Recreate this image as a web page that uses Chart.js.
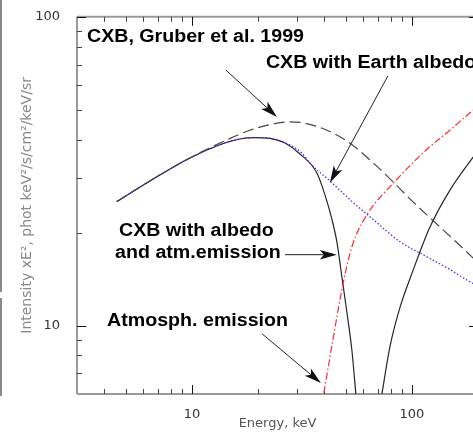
<!DOCTYPE html>
<html><head><meta charset="utf-8">
<script src="https://cdn.jsdelivr.net/npm/chart.js@4/dist/chart.umd.min.js"></script>
<style>
html,body{margin:0;padding:0;background:#fff;overflow:hidden;width:473px;height:432px}
#wrap{position:relative;width:473px;height:432px;overflow:hidden;background:#fff}
#c{position:absolute;left:0;top:0}
.strip{position:absolute;left:0;width:2px;background:#8a8a8a}
</style></head><body>
<div id="wrap">
<canvas id="c" width="490" height="432"></canvas>
<div class="strip" style="top:0;height:292px"></div>
<div class="strip" style="top:298px;height:98px"></div>
</div>
<script>
// ---- axis ranges & ticks ----
const energyRange = [3, 200];
const intensityRange = [6, 100];
const energyTicks = [10, 100];
const intensityTicks = [10, 100];
const energyMinorTicks = [4, 5, 6, 7, 8, 9, 20, 30, 40, 50, 60, 70, 80, 90, 200];
const intensityMinorTicks = [7, 8, 9, 20, 30, 40, 50, 60, 70, 80, 90];

// ---- series (Energy keV, Intensity x E^2) ----
const gruberE = [4.55, 6.44, 9.79, 13.4, 18.35, 23.8, 27.9, 33.3, 42.4, 52.2, 64.4, 79.4, 101, 124.6, 153.5, 189.2, 200];
const gruberI = [25.2, 29.4, 34.9, 39.0, 42.9, 45.1, 45.7, 45.1, 42.5, 39.0, 34.4, 29.9, 25.2, 21.9, 19.1, 16.6, 16.0];

const albedoE = [4.55, 6.44, 9.79, 13.4, 16.5, 19.3, 22.6, 26.5, 31.6, 34.4, 42.4, 52.2, 66.5, 88.2, 117, 148.9, 189.2, 200];
const albedoI = [25.2, 29.4, 34.9, 38.5, 40.2, 40.6, 40.4, 39.1, 36.2, 33.6, 29.4, 25.6, 22.1, 18.7, 16.7, 15.2, 13.7, 13.5];

const atmE = [37.9, 39.8, 43.7, 48.6, 53.4, 62.4, 82.0, 114.6, 148.9, 189.2, 200];
const atmI = [4.96, 6.05, 8.93, 13.6, 18.0, 22.8, 28.8, 36.7, 42.9, 49.7, 51.2];

const totalLowE = [4.55, 6.44, 9.79, 13.4, 16.5, 19.3, 22.6, 26.5, 30.6, 37.0, 40.2, 43.3, 45.6, 47.5, 50.6, 53.4, 55.6, 57.0];
const totalLowI = [25.2, 29.4, 34.9, 38.5, 40.2, 40.6, 40.4, 39.0, 36.2, 31.2, 26.6, 22.1, 18.7, 15.3, 11.1, 8.30, 6.05, 5.0];

const totalHighE = [69.8, 73.1, 79.4, 88.2, 101, 120.8, 148.9, 189, 200];
const totalHighI = [4.96, 6.0, 8.49, 11.4, 15.0, 20.8, 27.4, 34.9, 36.8];

// ---- annotations (in data coordinates) ----
const labelTexts = ['CXB, Gruber et al. 1999', 'CXB with Earth albedo', 'CXB with albedo', 'and atm.emission', 'Atmosph. emission'];
const labelAnchors = [[3.33, 82.9], [21.7, 68.2], [4.66, 19.5], [4.47, 16.5], [4.11, 9.98]];
const arrowLines = [
  [[14.27, 67.2], [24.35, 47.4]],
  [[77.8, 64.3], [42.4, 29.0]],
  [[26.5, 16.96], [45.6, 16.96]],
  [[20.8, 9.41], [38.6, 6.51]]
];

const pts = (xs, ys) => xs.map((x, i) => ({x: x, y: ys[i]}));

const framePlugin = {
  id: 'frame',
  beforeDatasetsDraw(chart) {
    const {ctx, chartArea: a, scales: {x, y}} = chart;
    ctx.save();
    ctx.strokeStyle = '#9a9a9a';
    ctx.lineWidth = 2;
    ctx.beginPath();
    ctx.moveTo(a.left, a.top); ctx.lineTo(a.right, a.top);
    ctx.moveTo(a.left, a.bottom); ctx.lineTo(a.right, a.bottom);
    ctx.moveTo(a.left, a.top); ctx.lineTo(a.left, a.bottom);
    ctx.moveTo(a.right, a.top); ctx.lineTo(a.right, a.bottom);
    ctx.stroke();
    ctx.lineWidth = 1;
    const tick = (x1, y1, x2, y2, col) => {
      ctx.strokeStyle = col; ctx.beginPath(); ctx.moveTo(x1, y1); ctx.lineTo(x2, y2); ctx.stroke();
    };
    energyMinorTicks.forEach(v => {
      const px = Math.round(x.getPixelForValue(v)) + 0.5;
      tick(px, a.bottom, px, a.bottom - 5, '#444');
      tick(px, a.top, px, a.top + 5, '#444');
    });
    energyTicks.forEach(v => {
      const px = Math.round(x.getPixelForValue(v)) + 0.5;
      tick(px, a.bottom, px, a.bottom - 9, '#111');
      tick(px, a.top, px, a.top + 9, '#111');
    });
    intensityMinorTicks.forEach(v => {
      const py = Math.round(y.getPixelForValue(v)) + 0.5;
      tick(a.left, py, a.left + 5, py, '#444');
      tick(a.right, py, a.right - 5, py, '#444');
    });
    intensityTicks.forEach(v => {
      const py = Math.round(y.getPixelForValue(v)) + 0.5;
      tick(a.left, py, a.left + 9, py, '#111');
      tick(a.right, py, a.right - 9, py, '#111');
    });
    ctx.restore();
  }
};

const annotPlugin = {
  id: 'annot',
  afterDatasetsDraw(chart) {
    const {ctx, scales: {x, y}} = chart;
    ctx.save();
    ctx.fillStyle = '#000';
    ctx.font = 'bold 18px "Liberation Sans", Arial, sans-serif';
    ctx.textBaseline = 'alphabetic';
    ctx.textAlign = 'left';
    labelTexts.forEach((t, i) => {
      const px = x.getPixelForValue(labelAnchors[i][0]);
      const py = y.getPixelForValue(labelAnchors[i][1]);
      ctx.save();
      ctx.translate(px, py);
      ctx.scale(1.09, 1);
      ctx.fillText(t, 0, 0);
      ctx.restore();
    });
    ctx.strokeStyle = '#222';
    ctx.fillStyle = '#111';
    ctx.lineWidth = 1;
    arrowLines.forEach(([s, e]) => {
      const x1 = x.getPixelForValue(s[0]), y1 = y.getPixelForValue(s[1]);
      const x2 = x.getPixelForValue(e[0]), y2 = y.getPixelForValue(e[1]);
      const ang = Math.atan2(y2 - y1, x2 - x1);
      const L = 17, W = 4.8, N = 4;
      const bx = x2 - L * Math.cos(ang), by = y2 - L * Math.sin(ang);
      ctx.beginPath();
      ctx.moveTo(x1, y1);
      ctx.lineTo(bx + N * Math.cos(ang), by + N * Math.sin(ang));
      ctx.stroke();
      ctx.beginPath();
      ctx.moveTo(x2, y2);
      ctx.lineTo(bx - W * Math.sin(ang), by + W * Math.cos(ang));
      ctx.lineTo(bx + N * Math.cos(ang), by + N * Math.sin(ang));
      ctx.lineTo(bx + W * Math.sin(ang), by - W * Math.cos(ang));
      ctx.closePath();
      ctx.fill();
    });
    ctx.restore();
  }
};

const common = {pointRadius: 0, fill: false, cubicInterpolationMode: 'monotone', borderWidth: 1.2};

new Chart(document.getElementById('c'), {
  type: 'line',
  data: {
    datasets: [
      Object.assign({label: 'CXB, Gruber et al. 1999', data: pts(gruberE, gruberI), borderColor: '#474747', borderDash: [11, 5]}, common),
      Object.assign({label: 'CXB with Earth albedo', data: pts(albedoE, albedoI), borderColor: '#2a2aff', borderDash: [1.5, 2]}, common),
      Object.assign({label: 'Atmosph. emission', data: pts(atmE, atmI), borderColor: '#ff2a2a', borderDash: [7, 2.5, 1.5, 2.5]}, common),
      Object.assign({label: 'CXB with albedo and atm.emission', data: pts(totalLowE, totalLowI), borderColor: '#262626'}, common),
      Object.assign({label: 'CXB with albedo and atm.emission (high)', data: pts(totalHighE, totalHighI), borderColor: '#262626'}, common)
    ]
  },
  options: {
    responsive: false,
    animation: false,
    devicePixelRatio: 1,
    layout: {padding: {top: 12, right: 12, left: 0, bottom: 0}},
    plugins: {legend: {display: false}, tooltip: {enabled: false}},
    scales: {
      x: {
        type: 'logarithmic', position: 'bottom', min: energyRange[0], max: energyRange[1],
        grid: {display: false}, border: {display: false},
        afterBuildTicks: s => { s.ticks = energyTicks.map(v => ({value: v})); },
        afterFit: s => { s.height = 38; },
        ticks: {autoSkip: false, maxRotation: 0, padding: 5, color: '#333',
          font: {family: 'DejaVu Sans', size: 13}, callback: v => String(v)},
        title: {display: true, text: 'Energy, keV', color: '#555',
          font: {family: 'DejaVu Sans', size: 13}, padding: {top: 0, bottom: 1}}
      },
      y: {
        type: 'logarithmic', position: 'left', min: intensityRange[0], max: intensityRange[1],
        grid: {display: false}, border: {display: false},
        afterBuildTicks: s => { s.ticks = intensityTicks.map(v => ({value: v})); },
        afterFit: s => { s.width = 77; },
        ticks: {autoSkip: false, padding: 9, color: '#333',
          font: {family: 'DejaVu Sans', size: 13}, callback: v => String(v)},
        title: {display: true, text: 'Intensity xE², phot keV²/s/cm²/keV/sr', color: '#888',
          font: {family: 'DejaVu Sans', size: 14}, padding: {top: 19, bottom: 0}}
      }
    }
  },
  plugins: [framePlugin, annotPlugin]
});
</script>
</body></html>
